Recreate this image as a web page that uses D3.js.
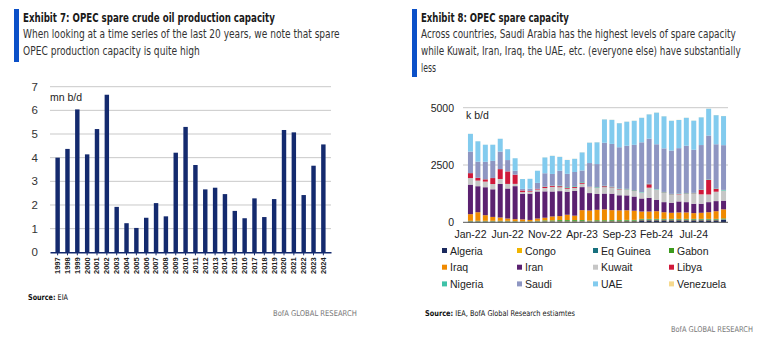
<!DOCTYPE html>
<html>
<head>
<meta charset="utf-8">
<script src="https://cdn.jsdelivr.net/npm/d3@7"></script>
<style>
  body { margin: 0; background: #fff; }
  svg { display: block; }
  text { font-family: "Liberation Sans", Arial, sans-serif; }
  .cond { font-family: "Liberation Sans Narrow", "DejaVu Sans Condensed", "Liberation Sans", Arial, sans-serif; }
</style>
</head>
<body>
<script>
// ---- Exhibit 7 data (mn b/d) ----
const years = ["1997","1998","1999","2000","2001","2002","2003","2004","2005","2006","2007","2008","2009","2010",
  "2011","2012","2013","2014","2015","2016","2017","2018","2019","2020","2021","2022","2023","2024"];
const spareCapacity = [4.0, 4.37, 6.04, 4.14, 5.21, 6.66, 1.92, 1.23, 1.03, 1.46, 2.08, 1.52, 4.21, 5.30,
  3.69, 2.66, 2.73, 2.46, 1.75, 1.44, 2.28, 1.49, 2.25, 5.17, 5.07, 2.42, 3.66, 4.56];
const leftTicks = [0, 1, 2, 3, 4, 5, 6, 7];

// ---- Exhibit 8 data (k b/d) ----
const months = ["Jan-22","Feb-22","Mar-22","Apr-22","May-22","Jun-22","Jul-22","Aug-22","Sep-22","Oct-22","Nov-22","Dec-22",
  "Jan-23","Feb-23","Mar-23","Apr-23","May-23","Jun-23","Jul-23","Aug-23","Sep-23","Oct-23","Nov-23","Dec-23",
  "Jan-24","Feb-24","Mar-24","Apr-24","May-24","Jun-24","Jul-24","Aug-24","Sep-24","Oct-24","Nov-24"];
const monthTicks = ["Jan-22","Jun-22","Nov-22","Apr-23","Sep-23","Feb-24","Jul-24"];
const rightTicks = [0, 2500, 5000];

const algeria   = [25,25,25,25,25,25,20,15,15,25,30,30,35,35,35,35,30,35,35,40,40,45,45,90,90,90,90,90,90,90,90,90,90,90,110];
const congo     = [15,15,15,15,15,15,12,10,10,15,15,15,15,15,15,15,15,15,15,15,15,15,15,15,15,15,15,15,15,15,15,15,15,15,15];
const eqGuinea  = [10,10,10,10,10,10,10,10,10,10,15,15,15,15,15,15,15,15,15,15,15,15,15,20,20,20,20,20,20,20,20,20,20,20,20];
const gabon     = [15,15,15,15,15,15,10,8,8,15,25,25,35,35,35,35,15,30,30,30,30,30,30,25,25,25,25,25,25,25,25,25,25,25,25];
const iraq      = [290,375,245,170,145,100,85,85,60,100,115,170,170,230,190,430,440,450,470,430,420,420,400,320,320,335,290,265,280,280,250,265,290,335,395];
const iran      = [1290,1135,1220,1205,1465,1310,1440,1120,1150,1180,1150,1090,1090,1005,1080,1005,760,690,690,720,660,650,620,570,600,500,440,440,480,450,410,395,440,440,380];
const kuwait    = [285,245,245,230,215,200,100,70,85,85,145,200,170,130,130,145,260,270,280,260,250,250,240,260,440,440,410,350,310,365,440,410,335,410,440];
const libya     = [215,115,100,260,430,545,400,70,30,30,55,45,45,45,45,45,10,10,40,20,20,10,20,0,150,0,15,15,15,15,15,200,640,130,0];
const nigeria   = [5,5,5,5,5,5,3,0,0,0,15,15,30,30,30,30,10,25,25,25,25,25,25,20,20,20,20,20,20,20,20,20,20,20,30];
const saudi     = [935,705,760,745,760,490,170,70,100,260,575,505,645,575,620,505,1030,1000,1870,1865,1800,1880,1970,2170,1970,1960,1900,1890,1980,2060,1880,1930,1910,1920,1950];
const uae       = [775,890,745,705,560,475,545,430,430,530,690,790,605,605,575,790,890,950,1020,1050,1050,1050,1050,1070,1060,1380,1400,1300,1230,1220,1270,1210,1170,1270,1270];
const venezuela = [2,2,2,2,2,2,2,2,2,2,5,5,5,5,5,5,5,5,5,5,5,5,5,5,5,5,5,5,5,5,5,5,5,5,5];

const countries = ["Algeria","Congo","Eq Guinea","Gabon","Iraq","Iran","Kuwait","Libya","Nigeria","Saudi","UAE","Venezuela"];
const seriesValues = [algeria, congo, eqGuinea, gabon, iraq, iran, kuwait, libya, nigeria, saudi, uae, venezuela];
const colors = ["#1b2a5e","#f0b400","#17707e","#3c9a1c","#f08a00","#5b2170","#c6c6c6","#d0183a","#3fc2a8","#8e96c2","#82cbee","#f6d98e"];

const svg = d3.select("body").append("svg")
  .attr("width", 765)
  .attr("height", 354);

svg.append("rect").attr("width", 765).attr("height", 354).attr("fill", "#fff");

// squeeze a text horizontally so it spans the given width (condensed report font)
function fitText(sel, x, width) {
  const w = sel.node().getComputedTextLength();
  const sx = Math.min(1, width / w);
  sel.attr("x", 0).attr("transform", `translate(${x},0) scale(${sx},1)`);
}

// header: blue bar, bold title, subtitle lines
function header(x, barBottom, title, titleW, lines) {
  svg.append("rect")
    .attr("x", x - 9).attr("y", 9)
    .attr("width", 5).attr("height", barBottom - 9)
    .attr("fill", "#0b50c8");
  const t = svg.append("text")
    .attr("class", "cond")
    .attr("y", 22)
    .attr("font-size", 12.5).attr("font-weight", "bold")
    .attr("fill", "#1a1a1a")
    .text(title);
  fitText(t, x, titleW);
  lines.forEach((l, i) => {
    const s = svg.append("text")
      .attr("class", "cond")
      .attr("y", 38.5 + i * 16.8)
      .attr("font-size", 12)
      .attr("fill", "#333")
      .text(l[0]);
    fitText(s, x, l[1]);
  });
}

header(23, 62, "Exhibit 7: OPEC spare crude oil production capacity", 252, [
  ["When looking at a time series of the last 20 years, we note that spare", 317],
  ["OPEC production capacity is quite high", 177]
]);
header(421, 77, "Exhibit 8: OPEC spare capacity", 148, [
  ["Across countries, Saudi Arabia has the highest levels of spare capacity", 315],
  ["while Kuwait, Iran, Iraq, the UAE, etc. (everyone else) have substantially", 320],
  ["less", 15]
]);

// ---------- Exhibit 7 ----------
const xL = d3.scaleBand().domain(years).range([50, 331]).padding(0.55);
const yL = d3.scaleLinear().domain([0, 7]).range([252.3, 86.7]);

const gL = svg.append("g");
gL.selectAll(".grid")
  .data(leftTicks.filter(d => d > 0))
  .enter().append("line")
  .attr("x1", 50).attr("x2", 331)
  .attr("y1", d => yL(d)).attr("y2", d => yL(d))
  .attr("stroke", "#c9c9c9").attr("stroke-width", 1);

gL.selectAll(".ylab")
  .data(leftTicks)
  .enter().append("text")
  .attr("x", 38).attr("y", d => yL(d) + 4)
  .attr("text-anchor", "end")
  .attr("font-size", 11.5).attr("fill", "#333")
  .text(d => d);

gL.selectAll(".bar")
  .data(spareCapacity)
  .enter().append("rect")
  .attr("x", (d, i) => xL(years[i]))
  .attr("y", d => yL(d))
  .attr("width", xL.bandwidth())
  .attr("height", d => yL(0) - yL(d))
  .attr("fill", "#142a6e");

gL.append("g")
  .attr("transform", `translate(0, ${yL(0)})`)
  .call(d3.axisBottom(xL).tickSize(3).tickSizeOuter(0))
  .call(g => g.select(".domain").attr("stroke", "#142a6e").attr("stroke-width", 1.5))
  .call(g => g.selectAll(".tick line").attr("stroke", "#142a6e"))
  .call(g => g.selectAll(".tick text")
    .attr("transform", "rotate(-90)")
    .attr("x", -5).attr("y", 0).attr("dy", "0.32em")
    .attr("text-anchor", "end")
    .attr("font-size", 7.5).attr("font-weight", "bold")
    .attr("font-family", "'Liberation Sans', Arial, sans-serif")
    .attr("fill", "#222"));

gL.append("text").attr("x", 50).attr("y", 101)
  .attr("font-size", 10.5).attr("fill", "#222").text("mn b/d");

const srcL = svg.append("text").attr("class", "cond").attr("y", 300.5)
  .attr("font-size", 8).attr("fill", "#111")
  .html('<tspan font-weight="bold">Source:</tspan> EIA');
fitText(srcL, 28, 40);
const brandL = svg.append("text").attr("class", "cond").attr("y", 316)
  .attr("font-size", 8).attr("fill", "#777")
  .text("BofA GLOBAL RESEARCH");
fitText(brandL, 273, 84);

// ---------- Exhibit 8 ----------
const table = months.map((m, i) => {
  const row = { month: m };
  countries.forEach((c, k) => { row[c] = seriesValues[k][i]; });
  return row;
});
const stacked = d3.stack().keys(countries)(table);

const xR = d3.scaleBand().domain(months).range([465.5, 728.5]).padding(0.33);
const yR = d3.scaleLinear().domain([0, 5000]).range([222.3, 107.7]);
const color = d3.scaleOrdinal().domain(countries).range(colors);

const gR = svg.append("g");
gR.selectAll(".grid")
  .data(rightTicks.filter(d => d > 0))
  .enter().append("line")
  .attr("x1", 463).attr("x2", 728)
  .attr("y1", d => yR(d)).attr("y2", d => yR(d))
  .attr("stroke", "#c9c9c9").attr("stroke-width", 1);

gR.selectAll(".ylab")
  .data(rightTicks)
  .enter().append("text")
  .attr("x", 454).attr("y", d => yR(d) + 4)
  .attr("text-anchor", "end")
  .attr("font-size", 10.5).attr("fill", "#222")
  .text(d => d);

gR.selectAll(".layer")
  .data(stacked)
  .enter().append("g")
  .attr("fill", d => color(d.key))
  .selectAll("rect")
  .data(d => d)
  .enter().append("rect")
  .attr("x", d => xR(d.data.month))
  .attr("y", d => yR(d[1]))
  .attr("width", xR.bandwidth())
  .attr("height", d => yR(d[0]) - yR(d[1]));

gR.append("line")
  .attr("x1", 463).attr("x2", 728)
  .attr("y1", yR(0)).attr("y2", yR(0))
  .attr("stroke", "#555").attr("stroke-width", 1);

gR.selectAll(".xlab")
  .data(monthTicks)
  .enter().append("text")
  .attr("x", d => xR(d) + xR.bandwidth() / 2)
  .attr("y", 237.5)
  .attr("text-anchor", "middle")
  .attr("font-size", 10.5).attr("fill", "#222")
  .text(d => d);

gR.append("text").attr("x", 466).attr("y", 119)
  .attr("font-size", 10.5).attr("fill", "#222").text("k b/d");

// legend
const legendX = [442, 517, 593, 669];
const legend = gR.selectAll(".legend")
  .data(countries)
  .enter().append("g")
  .attr("transform", (d, i) => `translate(${legendX[i % 4]}, ${251 + Math.floor(i / 4) * 16.7})`);
legend.append("rect")
  .attr("x", 0).attr("y", -3).attr("width", 5).attr("height", 5)
  .attr("fill", d => color(d));
legend.append("text")
  .attr("x", 8).attr("y", 3.5)
  .attr("font-size", 10.5).attr("fill", "#222")
  .text(d => d);

const srcR = svg.append("text").attr("class", "cond").attr("y", 316.5)
  .attr("font-size", 8).attr("fill", "#111")
  .html('<tspan font-weight="bold">Source:</tspan> IEA, BofA Global Research estiamtes');
fitText(srcR, 425, 150);
const brandR = svg.append("text").attr("class", "cond").attr("y", 332)
  .attr("font-size", 8).attr("fill", "#777")
  .text("BofA GLOBAL RESEARCH");
fitText(brandR, 671, 82);
</script>
</body>
</html>
